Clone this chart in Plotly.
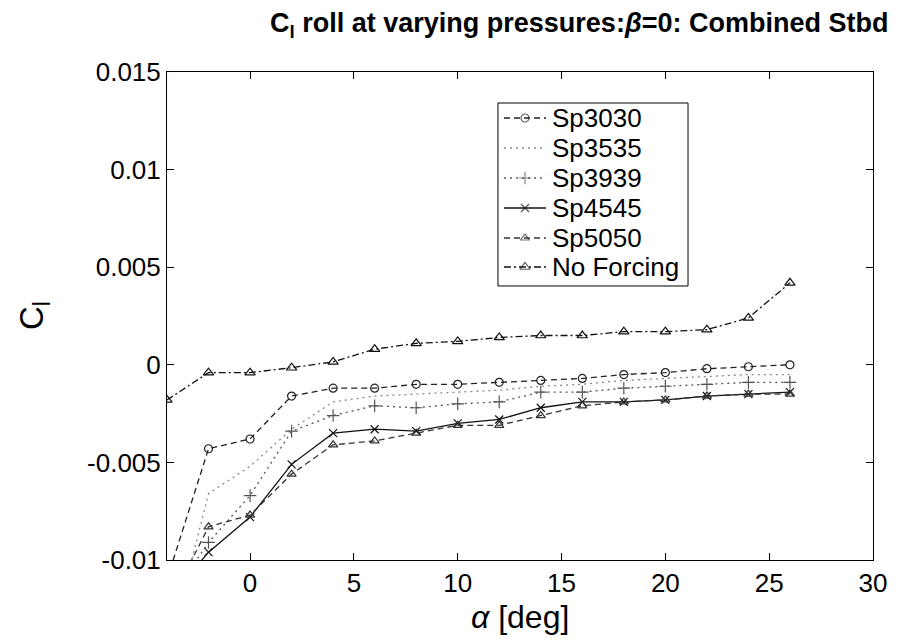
import plotly.graph_objects as go

alpha = [-4, -2, 0, 2, 4, 6, 8, 10, 12, 14, 16, 18, 20, 22, 24, 26]

sp3030 = [-0.0110, -0.0043, -0.0038, -0.0016, -0.0012, -0.0012, -0.0010, -0.0010,
          -0.0009, -0.0008, -0.0007, -0.0005, -0.0004, -0.0002, -0.0001, 0.0000]
sp3535 = [-0.0150, -0.0066, -0.0052, -0.0033, -0.0019, -0.0016, -0.0015, -0.0014,
          -0.0013, -0.0011, -0.0010, -0.0008, -0.0007, -0.0006, -0.0005, -0.0005]
sp3939 = [-0.0122, -0.0091, -0.0067, -0.0034, -0.0026, -0.0021, -0.0022, -0.0020,
          -0.0019, -0.0014, -0.0014, -0.0012, -0.0011, -0.0010, -0.0009, -0.0009]
sp4545 = [-0.0121, -0.0096, -0.0078, -0.0051, -0.0035, -0.0033, -0.0034, -0.0030,
          -0.0028, -0.0022, -0.0019, -0.0019, -0.0018, -0.0016, -0.0015, -0.0014]
sp5050 = [-0.0125, -0.0083, -0.0077, -0.0056, -0.0041, -0.0039, -0.0035, -0.0031,
          -0.0031, -0.0026, -0.0021, -0.0019, -0.0018, -0.0016, -0.0015, -0.0015]
no_forcing = [-0.0018, -0.0004, -0.0004, -0.00015, 0.00015, 0.0008, 0.0011, 0.0012,
              0.0014, 0.0015, 0.0015, 0.0017, 0.0017, 0.0018, 0.0024, 0.0042]

series_names = ["Sp3030", "Sp3535", "Sp3939", "Sp4545", "Sp5050", "No Forcing"]
series_vals = [sp3030, sp3535, sp3939, sp4545, sp5050, no_forcing]

x_ticks = [0, 5, 10, 15, 20, 25, 30]
y_ticks = [-0.01, -0.005, 0, 0.005, 0.01, 0.015]
y_ticklabels = ["-0.01", "-0.005", "0", "0.005", "0.01", "0.015"]

styles = [
    dict(dash="6px,4px", marker="circle-open", color="#222222", size=8),
    dict(dash="2px,4px", marker=None, color="#888888", size=0),
    dict(dash="2px,4px", marker="cross-thin-open", color="#555555", size=9),
    dict(dash="solid", marker="x-thin-open", color="#111111", size=8),
    dict(dash="6px,4px", marker="triangle-up-open", color="#333333", size=8),
    dict(dash="7px,3px,2px,3px", marker="triangle-up-open", color="#111111", size=9),
]

font_fam = "Liberation Sans, Arial, Helvetica, sans-serif"


def trace_kwargs(st, sizes):
    kw = dict(line=dict(color=st["color"], width=1.3, dash=st["dash"]))
    if st["marker"] is None:
        kw["mode"] = "lines"
    else:
        kw["mode"] = "lines+markers"
        kw["marker"] = dict(symbol=st["marker"], size=sizes, color=st["color"],
                            line=dict(color=st["color"], width=1.2))
    return kw


fig = go.Figure()
for name, vals, st in zip(series_names, series_vals, styles):
    fig.add_trace(go.Scatter(x=alpha, y=vals, name=name, showlegend=False,
                             **trace_kwargs(st, st["size"])))

# ---- hand-built legend (box, samples on an overlay axis, labels) ----
leg_x0, leg_x1 = 0.4688, 0.7380
leg_y0, leg_y1 = 0.5615, 0.9365
row_y = [0.9057, 0.8443, 0.7828, 0.7213, 0.6598, 0.6004]
samp_x = [0.4773, 0.5071, 0.5368]
text_x = 0.5425

for name, st, yy in zip(series_names, styles, row_y):
    fig.add_trace(go.Scatter(x=samp_x, y=[yy, yy, yy], xaxis="x2", yaxis="y2",
                             showlegend=False, hoverinfo="skip",
                             **trace_kwargs(st, [0, st["size"], 0])))

annotations = [
    dict(text="<b>C<sub>l</sub> roll at varying pressures:<i>β</i>=0: Combined Stbd</b>",
         xref="paper", yref="paper", x=0.583, y=1.0, yshift=47,
         xanchor="center", yanchor="middle", showarrow=False,
         font=dict(size=27, family=font_fam, color="black")),
    dict(text="<i>α</i> [deg]",
         xref="paper", yref="paper", x=0.5, y=0, yshift=-57,
         xanchor="center", yanchor="middle", showarrow=False,
         font=dict(size=32, family=font_fam, color="black")),
    dict(text="C<sub>l</sub>",
         xref="paper", yref="paper", x=0, y=0.5, xshift=-133,
         xanchor="center", yanchor="middle", showarrow=False, textangle=-90,
         font=dict(size=33, family=font_fam, color="black")),
]
for name, yy in zip(series_names, row_y):
    annotations.append(dict(
        text=name, xref="paper", yref="paper", x=text_x, y=yy,
        xanchor="left", yanchor="middle", showarrow=False,
        font=dict(size=26, family=font_fam, color="black")))

fig.update_layout(
    width=901, height=633,
    margin=dict(l=159, r=36, t=64, b=81),
    paper_bgcolor="white", plot_bgcolor="white",
    font=dict(family=font_fam, color="black"),
    showlegend=False,
    xaxis=dict(
        range=[-4, 30], tickvals=x_ticks, ticktext=[str(v) for v in x_ticks],
        ticks="inside", ticklen=7, tickcolor="black", tickwidth=1,
        showline=True, linecolor="black", linewidth=1, mirror="ticks",
        showgrid=False, zeroline=False,
        tickfont=dict(size=26, family=font_fam),
    ),
    yaxis=dict(
        range=[-0.01, 0.015], tickvals=y_ticks, ticktext=y_ticklabels,
        ticks="inside", ticklen=7, tickcolor="black", tickwidth=1,
        showline=True, linecolor="black", linewidth=1, mirror="ticks",
        showgrid=False, zeroline=False,
        tickfont=dict(size=26, family=font_fam),
    ),
    xaxis2=dict(overlaying="x", range=[0, 1], visible=False, fixedrange=True),
    yaxis2=dict(overlaying="y", range=[0, 1], visible=False, fixedrange=True),
    shapes=[dict(type="rect", xref="paper", yref="paper",
                 x0=leg_x0, x1=leg_x1, y0=leg_y0, y1=leg_y1,
                 line=dict(color="black", width=1), fillcolor="white", layer="below")],
    annotations=annotations,
)

fig.write_html("out.html")
